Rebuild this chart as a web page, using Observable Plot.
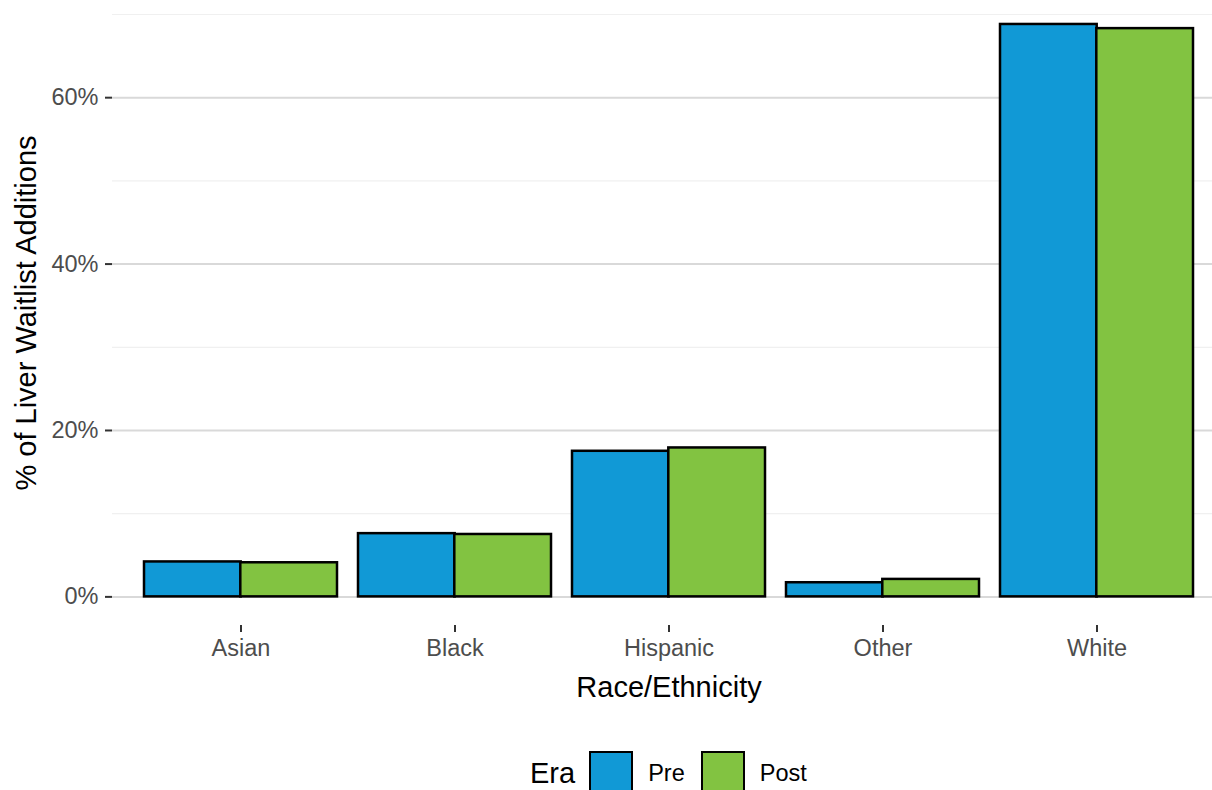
<!DOCTYPE html>
<html>
<head>
<meta charset="utf-8">
<script src="https://cdn.jsdelivr.net/npm/d3@7"></script>
<script src="https://cdn.jsdelivr.net/npm/@observablehq/plot@0.6"></script>
<style>
  html, body { margin: 0; padding: 0; background: #fff; overflow: hidden; }
  body { font-family: "Liberation Sans", Arial, Helvetica, sans-serif; width: 1212px; height: 790px; }
  #legend { display: flex; align-items: center; height: 44px; margin-top: 31px; margin-left: 530px; }
  #legend .title { font-size: 29px; color: #000; margin-right: 14px; }
  #legend .key { width: 40px; height: 40px; border: 2px solid #000; margin-right: 15px; }
  #legend .lab { font-size: 23.5px; color: #000; margin-right: 16px; }
</style>
</head>
<body>
<div id="chart"></div>
<div id="legend"></div>
<script>
// ---- data ----
const races = ["Asian", "Black", "Hispanic", "Other", "White"];
const eras = ["Pre", "Post"];
const prePct = [4.2, 7.6, 17.5, 1.7, 68.8];
const postPct = [4.1, 7.5, 17.9, 2.1, 68.3];
const yMajorTicks = [0, 20, 40, 60];
const yMinorTicks = [10, 30, 50, 70];
const xTitle = "Race/Ethnicity";
const yTitle = "% of Liver Waitlist Additions";
const legendTitle = "Era";

// ---- styles ----
const eraColors = ["#1199d6", "#82c341"];
const W = 1212, H = 720, mL = 112, mR = 0, mT = 0, mB = 95;
const padInner = 0.1, padOuter = 0.12;
const step = (W - mL - mR) / (races.length - padInner + 2 * padOuter);
const halfBand = step * (1 - padInner) / 2;

const rows = [];
races.forEach((r, i) => {
  rows.push({race: r, era: "Pre", pct: prePct[i]});
  rows.push({race: r, era: "Post", pct: postPct[i]});
});

const chart = Plot.plot({
  width: W, height: H,
  marginLeft: mL, marginRight: mR, marginTop: mT, marginBottom: mB,
  style: {fontFamily: '"Liberation Sans", Arial, Helvetica, sans-serif', background: "#fff"},
  x: {type: "band", domain: races, paddingInner: padInner, paddingOuter: padOuter, align: 0.62},
  y: {domain: [-3.44, 71.68]},
  color: {domain: eras, range: eraColors},
  marks: [
    Plot.ruleY(yMinorTicks, {stroke: "#f0f0f0", strokeWidth: 1.2}),
    Plot.ruleY(yMajorTicks, {stroke: "#d9d9d9", strokeWidth: 2}),
    Plot.barY(rows.filter(d => d.era === "Pre"), {x: "race", y: "pct", fill: "era", stroke: "#000", strokeWidth: 2.5, insetLeft: 0, insetRight: halfBand}),
    Plot.barY(rows.filter(d => d.era === "Post"), {x: "race", y: "pct", fill: "era", stroke: "#000", strokeWidth: 2.5, insetLeft: halfBand, insetRight: 0}),
    Plot.axisY({ticks: yMajorTicks, tickFormat: d => d + "%", tickSize: 7, tickPadding: 7, fontSize: 23.5, fill: "#4d4d4d", stroke: "#333", strokeWidth: 2, label: null}),
    Plot.axisX({tickSize: 7, tickPadding: 7, fontSize: 23.5, fill: "#4d4d4d", stroke: "#333", strokeWidth: 2, label: null}),
    Plot.text([yTitle], {text: d => d, frameAnchor: "left", textAnchor: "middle", lineAnchor: "middle", rotate: -90, dx: -86, fontSize: 29, fill: "#000"}),
    Plot.text([xTitle], {text: d => d, frameAnchor: "bottom", textAnchor: "middle", lineAnchor: "middle", dx: 6.5, dy: 62, fontSize: 29, fill: "#000"})
  ]
});
document.getElementById("chart").appendChild(chart);

// ---- legend ----
const leg = document.getElementById("legend");
const t = document.createElement("span");
t.className = "title"; t.textContent = legendTitle;
leg.appendChild(t);
eras.forEach((e, i) => {
  const k = document.createElement("span");
  k.className = "key"; k.style.background = eraColors[i];
  leg.appendChild(k);
  const l = document.createElement("span");
  l.className = "lab"; l.textContent = e;
  leg.appendChild(l);
});
</script>
</body>
</html>
